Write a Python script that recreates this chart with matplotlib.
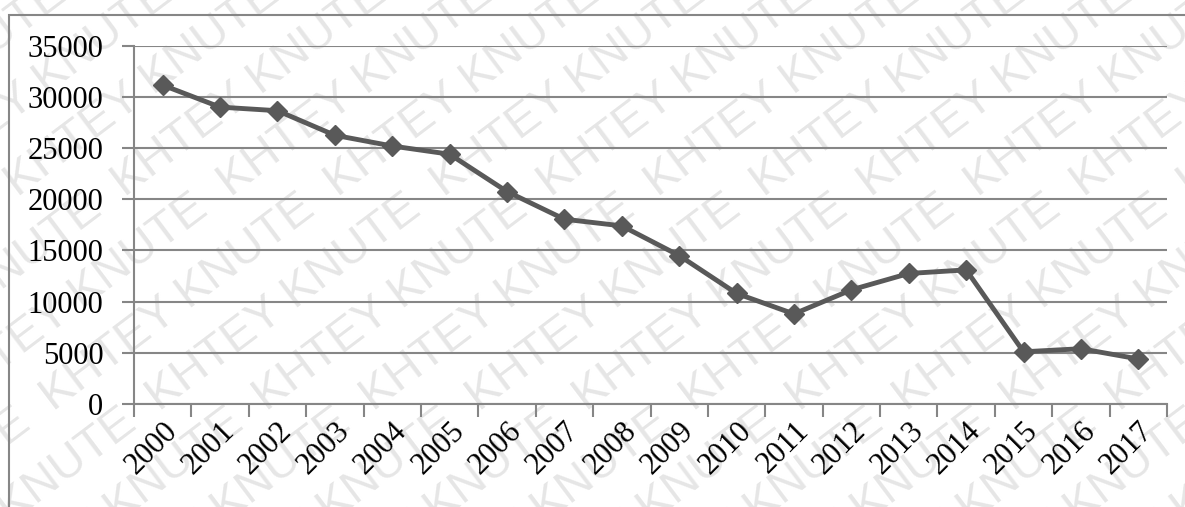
import numpy as np
import matplotlib
matplotlib.use("Agg")
import matplotlib.pyplot as plt
from matplotlib.patches import Rectangle

# values
years = ["2000", "2001", "2002", "2003", "2004", "2005", "2006", "2007", "2008",
         "2009", "2010", "2011", "2012", "2013", "2014", "2015", "2016", "2017"]
values = [31150, 29000, 28650, 26250, 25200, 24400, 20750, 18050, 17400,
          14500, 10800, 8800, 11150, 12750, 13100, 5100, 5400, 4400]
y_ticks = [0, 5000, 10000, 15000, 20000, 25000, 30000, 35000]
watermark = "KHTEY KNUTE"

plt.rcParams['font.family'] = ['Liberation Serif', 'DejaVu Serif']

fig = plt.figure(figsize=(11.85, 5.07), dpi=100)
ax = fig.add_axes([134/1185, 1 - 404/507, (1167-134)/1185, (404-45.7)/507])
ax.set_zorder(2)

grey = "#868686"

# faint watermark behind the chart
for i in range(-10, 12):
    fig.text(-0.1 + i*0.09, -0.25, "  ".join([watermark]*6), rotation=37,
             rotation_mode="anchor", fontsize=34, color="#e6e6e6",
             family="Liberation Sans", zorder=0, ha="left", va="bottom")

# outer frame
fig.patches.append(Rectangle((9/1185, -0.05), 1.1, 1 - 15/507 + 0.05,
                             transform=fig.transFigure, fill=False,
                             edgecolor=grey, linewidth=1.5, zorder=1))

x = np.arange(len(years))
ax.set_facecolor("none")
ax.plot(x, values, color="#595959", linewidth=3.5, marker="D", markersize=10,
        markerfacecolor="#595959", markeredgecolor="#595959", zorder=3)

ax.set_xlim(-0.5, len(years) - 0.5)
ax.set_ylim(0, 35000)
ax.set_yticks(y_ticks)
ax.set_yticklabels([str(v) for v in y_ticks], fontsize=22)
ax.yaxis.grid(True, color=grey, linewidth=1.5)
ax.set_axisbelow(True)

ax.set_xticks(x)
ax.set_xticklabels(years, fontsize=22, rotation=45, ha="right", va="top",
                   rotation_mode="anchor")
ax.set_xticks(np.arange(-0.5, len(years), 1), minor=True)
ax.tick_params(axis="x", which="major", length=0, pad=9)
ax.tick_params(axis="x", which="minor", length=9, width=1.5, color=grey)
ax.tick_params(axis="y", length=9, width=1.5, color=grey, pad=13)

for s in ["top", "right"]:
    ax.spines[s].set_visible(False)
for s in ["left", "bottom"]:
    ax.spines[s].set_color(grey)
    ax.spines[s].set_linewidth(1.5)

fig.savefig("out.png", dpi=100)
